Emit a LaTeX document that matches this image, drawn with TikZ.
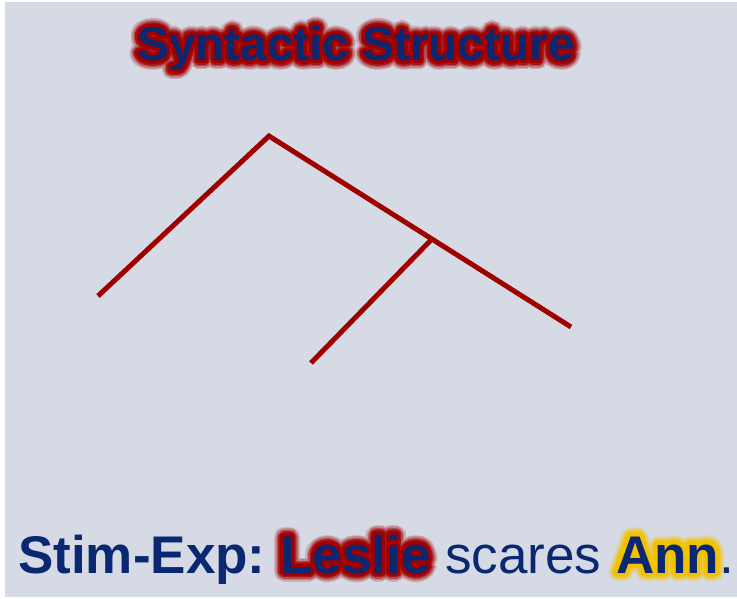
\documentclass[tikz,border=0pt]{standalone}
\usepackage{fontspec}
\setmainfont{Liberation Sans}
\definecolor{bg}{HTML}{D6DAE4}
\definecolor{navy}{HTML}{0A2872}
\definecolor{glowred}{HTML}{A00000}
\definecolor{glowyel}{HTML}{F2C200}
\definecolor{linered}{HTML}{9E0000}
\newcommand{\glowtext}[4]{% position (no parens), anchor, glow colour, text
  \foreach \r/\c in {9/20,7.5/40,6/65,4.5/90,3/100,1.5/100}{
    \foreach \a in {0,15,...,345}{
      \node[anchor=#2,inner sep=0pt,text=#3!\c!bg] at ([shift={(\a:\r pt)}]#1) {#4};
    }
  }
}
\tikzset{
  treeline/.style={draw=linered,line width=5pt,line cap=butt,line join=miter},
  txt/.style={anchor=base west,inner sep=0pt,text=navy}
}
\begin{document}
\begin{tikzpicture}[x=1pt,y=-1pt]
\useasboundingbox (0,0) rectangle (737,599);
\fill[white] (0,0) rectangle (737,599);
\fill[bg] (5,2) rectangle (737,597);
% title
\coordinate (tpos) at (356,61);
\glowtext{tpos}{base}{glowred}{\fontsize{47.7}{50}\selectfont\bfseries Syntactic Structure}
\node[anchor=base,inner sep=0pt,text=navy] (title) at (tpos) {\fontsize{47.7}{50}\selectfont\bfseries Syntactic Structure};
% tree
\coordinate (root) at (269,136);
\coordinate (left) at (98,296);
\coordinate (mid) at (431,240);
\coordinate (right) at (571,327);
\coordinate (midleaf) at (311,363);
\draw[treeline] (left) -- (root) -- (right);
\draw[treeline] (mid) -- (midleaf);
% bottom sentence
\coordinate (spos) at (18,573);
\begin{scope}[font=\fontsize{53}{56}\selectfont]
\glowtext{spos}{base west}{glowred}{\hphantom{\bfseries Stim-Exp:}\ {\bfseries Leslie}}
\glowtext{spos}{base west}{glowyel}{\hphantom{\bfseries Stim-Exp:}\ \hphantom{\bfseries Leslie}\ \hphantom{scares}\ {\bfseries Ann}}
\node[txt] (sentence) at (spos) {{\bfseries Stim-Exp:}\ {\bfseries Leslie}\ scares\ {\bfseries Ann}.};
\end{scope}
\end{tikzpicture}
\end{document}
